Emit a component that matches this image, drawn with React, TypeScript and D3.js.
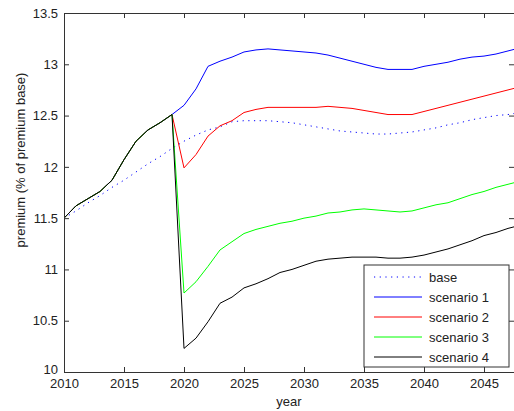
import React, { useEffect, useRef } from 'react';
import * as d3 from 'd3';

// shared history 2010-2019 (all scenarios follow it)
const historyYears = [2010, 2011, 2012, 2013, 2014, 2015, 2016, 2017, 2018, 2019];
const historyValues = [11.5, 11.62, 11.69, 11.76, 11.87, 12.07, 12.25, 12.36, 12.43, 12.51];

const futureYears = [2020, 2021, 2022, 2023, 2024, 2025, 2026, 2027, 2028, 2029, 2030,
    2031, 2032, 2033, 2034, 2035, 2036, 2037, 2038, 2039, 2040,
    2041, 2042, 2043, 2044, 2045, 2046, 2047, 2048];

const baseValues = [11.5, 11.57, 11.65, 11.72, 11.8, 11.87, 11.95, 12.03, 12.1, 12.18,
    12.25, 12.31, 12.36, 12.39, 12.44, 12.45, 12.45, 12.45, 12.44, 12.43, 12.41,
    12.39, 12.37, 12.35, 12.34, 12.33, 12.32, 12.32, 12.33, 12.34, 12.36,
    12.38, 12.41, 12.43, 12.46, 12.48, 12.5, 12.51, 12.53];

const scenario1 = [12.6, 12.76, 12.98, 13.03, 13.07, 13.12, 13.14, 13.15, 13.14, 13.13, 13.12,
    13.11, 13.09, 13.06, 13.03, 13.0, 12.97, 12.95, 12.95, 12.95, 12.98,
    13.0, 13.02, 13.05, 13.07, 13.08, 13.1, 13.13, 13.16];
const scenario2 = [11.99, 12.12, 12.3, 12.4, 12.45, 12.53, 12.56, 12.58, 12.58, 12.58, 12.58,
    12.58, 12.59, 12.58, 12.57, 12.55, 12.53, 12.51, 12.51, 12.51, 12.54,
    12.57, 12.6, 12.63, 12.66, 12.69, 12.72, 12.75, 12.78];
const scenario3 = [10.77, 10.88, 11.03, 11.19, 11.27, 11.35, 11.39, 11.42, 11.45, 11.47, 11.5,
    11.52, 11.55, 11.56, 11.58, 11.59, 11.58, 11.57, 11.56, 11.57, 11.6,
    11.63, 11.65, 11.69, 11.73, 11.76, 11.8, 11.83, 11.86];
const scenario4 = [10.23, 10.33, 10.49, 10.67, 10.73, 10.82, 10.86, 10.91, 10.97, 11.0, 11.04,
    11.08, 11.1, 11.11, 11.12, 11.12, 11.12, 11.11, 11.11, 11.12, 11.14,
    11.17, 11.2, 11.24, 11.28, 11.33, 11.36, 11.4, 11.43];

const seriesNames = ['base', 'scenario 1', 'scenario 2', 'scenario 3', 'scenario 4'];
const seriesColors = ['#0000ff', '#0000ff', '#ff0000', '#00ff00', '#000000'];

const xTicks = [2010, 2015, 2020, 2025, 2030, 2035, 2040, 2045];
const yTicks = [10, 10.5, 11, 11.5, 12, 12.5, 13, 13.5];

export default function App() {
    const ref = useRef<SVGSVGElement>(null);

    useEffect(() => {
        const svg = d3.select(ref.current);
        svg.selectAll('*').remove();

        const left = 64, right = 514, top = 13, bottom = 372;
        const font = '"Liberation Sans", Arial, sans-serif';

        const x = d3.scaleLinear().domain([2010, 2047.5]).range([left, right]);
        const y = d3.scaleLinear().domain([10, 13.5]).range([bottom, top]);

        const allYears = historyYears.concat(futureYears);
        const toPoints = (vals: number[]) => vals.map((v, i) => ({ yr: allYears[i], v }));
        const series = [
            toPoints(baseValues),
            toPoints(historyValues.concat(scenario1)),
            toPoints(historyValues.concat(scenario2)),
            toPoints(historyValues.concat(scenario3)),
            toPoints(historyValues.concat(scenario4)),
        ];

        svg.append('clipPath').attr('id', 'plotclip')
            .append('rect')
            .attr('x', left).attr('y', top)
            .attr('width', right - left).attr('height', bottom - top);

        const line = d3.line<{ yr: number, v: number }>()
            .x(d => x(d.yr))
            .y(d => y(d.v));

        const g = svg.append('g').attr('clip-path', 'url(#plotclip)');
        series.forEach((pts, i) => {
            g.append('path')
                .attr('d', line(pts))
                .attr('fill', 'none')
                .attr('stroke', seriesColors[i])
                .attr('stroke-width', 1)
                .attr('stroke-dasharray', i === 0 ? '1.2,4.5' : null);
        });

        // axes (ticks inside, matlab style)
        const xAxis = svg.append('g')
            .attr('transform', `translate(0,${bottom})`)
            .call(d3.axisBottom(x).tickValues(xTicks).tickFormat(d => String(d))
                .tickSizeInner(-5).tickSizeOuter(0).tickPadding(7));
        const topAxis = svg.append('g')
            .attr('transform', `translate(0,${top})`)
            .call(d3.axisTop(x).tickValues(xTicks).tickFormat(() => '')
                .tickSizeInner(-5).tickSizeOuter(0));
        const yAxis = svg.append('g')
            .attr('transform', `translate(${left},0)`)
            .call(d3.axisLeft(y).tickValues(yTicks).tickFormat(d => String(d))
                .tickSizeInner(-5).tickSizeOuter(0).tickPadding(6));
        const rightAxis = svg.append('g')
            .attr('transform', `translate(${right},0)`)
            .call(d3.axisRight(y).tickValues(yTicks).tickFormat(() => '')
                .tickSizeInner(-5).tickSizeOuter(0));

        [xAxis, topAxis, yAxis, rightAxis].forEach(a => {
            a.selectAll('path, line').attr('stroke', '#333');
            a.selectAll('text')
                .attr('fill', '#222')
                .style('font-family', font)
                .style('font-size', '13px');
        });
        // lowest y label sits just above the first year label
        yAxis.selectAll('text').filter(d => d === 10).attr('dy', '0.1em');

        svg.append('text')
            .attr('x', 289).attr('y', 406)
            .attr('text-anchor', 'middle')
            .style('font-family', font).style('font-size', '13px')
            .attr('fill', '#222')
            .text('year');

        svg.append('text')
            .attr('transform', 'translate(25,160) rotate(-90)')
            .attr('text-anchor', 'middle')
            .style('font-family', font).style('font-size', '13px')
            .attr('fill', '#222')
            .text('premium (% of premium base)');

        // legend
        const lg = svg.append('g').attr('transform', 'translate(364,265)');
        lg.append('rect')
            .attr('x', 0).attr('y', 0)
            .attr('width', 145).attr('height', 102)
            .attr('fill', '#fff').attr('stroke', '#333');
        seriesNames.forEach((name, i) => {
            const ly = 12 + i * 20;
            lg.append('line')
                .attr('x1', 10).attr('x2', 58)
                .attr('y1', ly).attr('y2', ly)
                .attr('stroke', seriesColors[i])
                .attr('stroke-dasharray', i === 0 ? '1.2,4.5' : null);
            lg.append('text')
                .attr('x', 65).attr('y', ly)
                .attr('dy', '0.35em')
                .style('font-family', font).style('font-size', '13px')
                .attr('fill', '#222')
                .text(name);
        });
    }, []);

    return (
        <svg ref={ref} width={514} height={411}
            style={{ position: 'absolute', left: 0, top: 0, background: '#fff' }} />
    );
}
